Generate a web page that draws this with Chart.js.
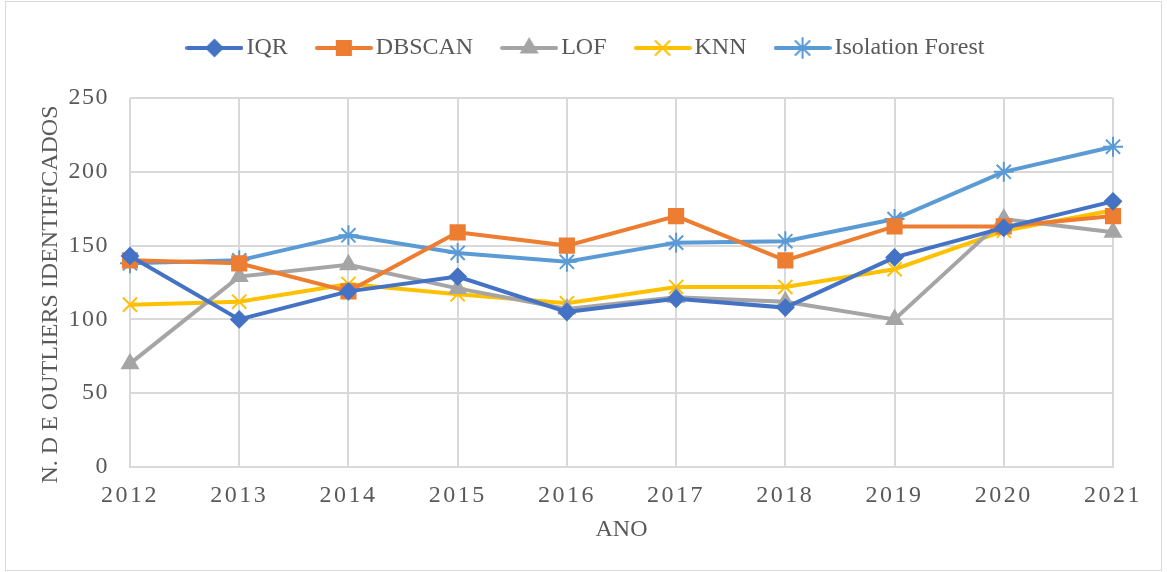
<!DOCTYPE html>
<html>
<head>
<meta charset="utf-8">
<script src="https://cdn.jsdelivr.net/npm/chart.js@4"></script>
<style>
  html, body { margin: 0; padding: 0; background: #fff; }
  #wrap { width: 1167px; height: 572px; }
</style>
</head>
<body>
<div id="wrap"><canvas id="chart" width="1167" height="572"></canvas></div>
<script>
// anos e valores
var years = ['2012', '2013', '2014', '2015', '2016', '2017', '2018', '2019', '2020', '2021'];
var iqr = [143, 100, 119, 129, 105, 114, 108, 142, 162, 180];
var dbscan = [140, 138, 119, 159, 150, 170, 140, 163, 163, 170];
var lof = [70, 129, 137, 121, 107, 115, 112, 100, 168, 159];
var knn = [110, 112, 124, 117, 111, 122, 122, 134, 160, 174];
var isoForest = [138, 140, 157, 145, 139, 152, 153, 168, 200, 217];
var yTicks = [0, 50, 100, 150, 200, 250];

var serif = '"Liberation Serif", "Times New Roman", serif';
var textColor = '#595959';
var gridColor = '#D9D9D9';

// linha + marcador para a legenda
function legendIcon(color, style, radius) {
    var c = document.createElement('canvas');
    c.width = 58;
    c.height = 24;
    var g = c.getContext('2d');
    g.strokeStyle = color;
    g.lineWidth = 4;
    g.lineCap = 'round';
    g.beginPath();
    g.moveTo(2, 12);
    g.lineTo(56, 12);
    g.stroke();
    g.fillStyle = color;
    g.lineWidth = 2;
    Chart.helpers.drawPoint(g, {pointStyle: style, radius: radius, borderWidth: 2}, 29, 12);
    return c;
}

function series(label, data, color, style, radius) {
    return {
        label: label,
        data: data,
        borderColor: color,
        backgroundColor: color,
        borderWidth: 4,
        pointStyle: style,
        pointRadius: radius,
        pointBorderWidth: 2,
        pointBorderColor: color,
        pointBackgroundColor: color,
        pointHoverRadius: radius,
        tension: 0,
        icon: null
    };
}

var datasets = [
    series('IQR', iqr, '#4472C4', 'rectRot', 8),
    series('DBSCAN', dbscan, '#ED7D31', 'rect', 10),
    series('LOF', lof, '#A5A5A5', 'triangle', 9),
    series('KNN', knn, '#FFC000', 'crossRot', 10),
    series('Isolation Forest', isoForest, '#5B9BD5', 'star', 10)
];
datasets.forEach(function (d) {
    d.icon = legendIcon(d.borderColor, d.pointStyle, d.pointRadius);
});

var frame = {
    id: 'frame',
    beforeDraw: function (chart) {
        var ctx = chart.ctx;
        ctx.save();
        ctx.fillStyle = '#fff';
        ctx.fillRect(0, 0, chart.width, chart.height);
        ctx.strokeStyle = gridColor;
        ctx.lineWidth = 1;
        ctx.strokeRect(5.5, 1.5, 1156, 569);
        ctx.restore();
    },
    // espaçamento entre os dígitos dos rótulos dos eixos
    afterLayout: function (chart) {
        [['x', '2.5px'], ['y', '1.5px']].forEach(function (p) {
            var s = chart.scales[p[0]];
            if (s._spaced) return;
            var orig = s.drawLabels;
            s.drawLabels = function (area) {
                var c = this.ctx;
                c.save();
                c.letterSpacing = p[1];
                orig.call(this, area);
                c.restore();
            };
            s._spaced = true;
        });
    }
};

var ctx = document.getElementById('chart').getContext('2d');
var chart = new Chart(ctx, {
    type: 'line',
    data: {
        labels: years,
        datasets: datasets
    },
    plugins: [frame],
    options: {
        responsive: false,
        animation: false,
        events: [],
        layout: {
            padding: {left: 66, right: 54, top: 0, bottom: 0}
        },
        plugins: {
            tooltip: {enabled: false},
            // espaço vazio entre a legenda e a área do gráfico
            title: {
                display: true,
                text: ' ',
                weight: 500,
                font: {size: 10},
                padding: {top: 8, bottom: 8}
            },
            legend: {
                position: 'top',
                labels: {
                    usePointStyle: true,
                    pointStyleWidth: 40,
                    padding: 36,
                    color: textColor,
                    font: {family: serif, size: 24},
                    generateLabels: function (chart) {
                        var items = Chart.defaults.plugins.legend.labels.generateLabels(chart);
                        items.forEach(function (it) {
                            it.pointStyle = chart.data.datasets[it.datasetIndex].icon;
                        });
                        return items;
                    }
                }
            }
        },
        scales: {
            x: {
                offset: false,
                grid: {color: gridColor, lineWidth: 2, drawTicks: false},
                border: {color: gridColor, width: 2},
                ticks: {
                    color: textColor,
                    font: {family: serif, size: 24},
                    padding: 14,
                    maxRotation: 0
                },
                title: {
                    display: true,
                    text: 'ANO',
                    color: textColor,
                    font: {family: serif, size: 24},
                    padding: {top: 4, bottom: 28}
                },
                afterFit: function (s) { s.height = 105; }
            },
            y: {
                min: 0,
                max: 250,
                afterBuildTicks: function (s) {
                    s.ticks = yTicks.map(function (v) { return {value: v}; });
                },
                grid: {color: gridColor, lineWidth: 2, drawTicks: false},
                border: {display: false},
                ticks: {
                    color: textColor,
                    font: {family: serif, size: 24},
                    padding: 21
                },
                title: {
                    display: true,
                    text: 'N. D E OUTLIERS IDENTIFICADOS    ',
                    color: textColor,
                    font: {family: serif, size: 24},
                    padding: {top: -30, bottom: 0}
                },
                afterFit: function (s) { s.width = 64; }
            }
        }
    }
});
</script>
</body>
</html>
